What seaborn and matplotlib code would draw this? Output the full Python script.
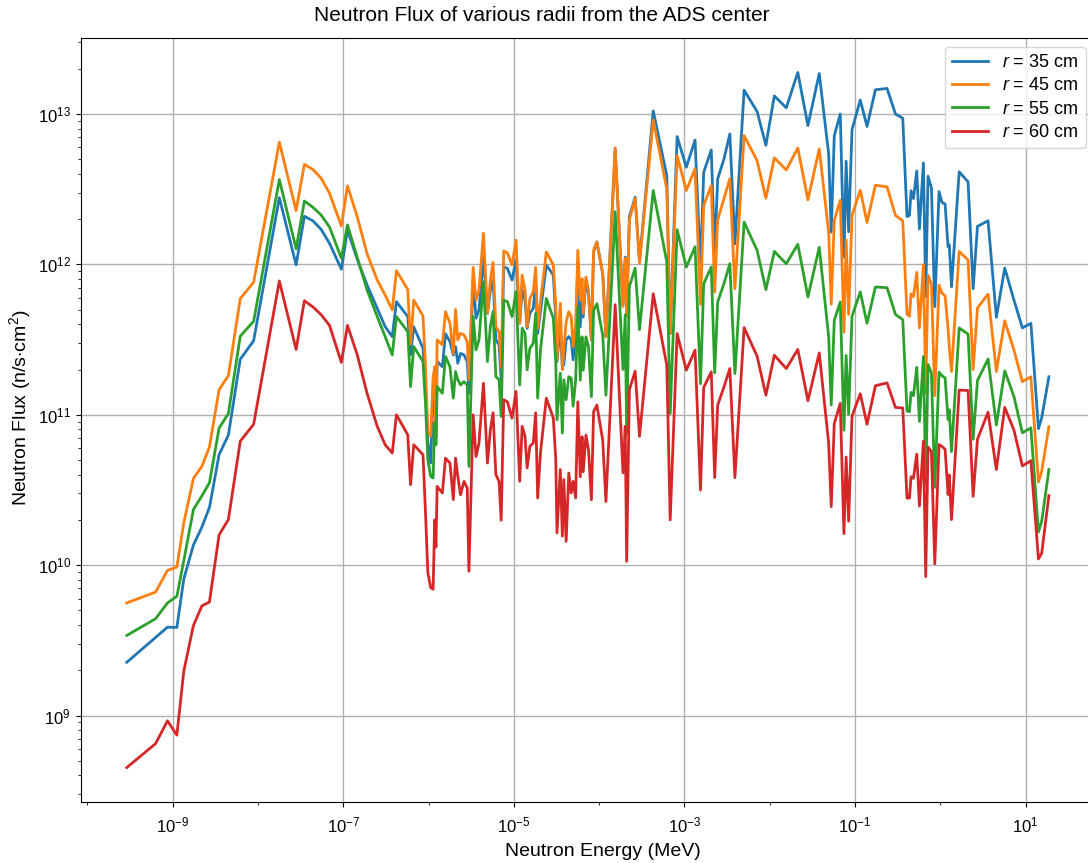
import numpy as np
import pandas as pd
import matplotlib
matplotlib.use("Agg")
import matplotlib.pyplot as plt
import matplotlib.ticker as mticker
import seaborn as sns

# Group energies (MeV)
energy_mev = [
    2.9e-10, 6.3e-10, 8.7e-10, 1.12e-9, 1.35e-9, 1.75e-9, 2.2e-9, 2.7e-9, 3.5e-9, 4.5e-9,
    6.2e-9, 8.9e-9, 1.78e-8, 2.8e-8, 3.5e-8, 4.4e-8, 5.5e-8, 6.9e-8, 9.5e-8, 1.12e-7,
    1.46e-7, 1.9e-7, 2.5e-7, 3.1e-7, 3.75e-7, 4.2e-7, 5.7e-7, 6.15e-7, 6.7e-7, 8.6e-7,
    9.2e-7, 9.8e-7, 1.06e-6, 1.13e-6, 1.18e-6, 1.22e-6, 1.26e-6, 1.45e-6, 1.58e-6, 1.78e-6,
    1.95e-6, 2.07e-6, 2.2e-6, 2.37e-6, 2.6e-6, 2.84e-6, 2.97e-6, 3.33e-6, 3.6e-6, 3.9e-6,
    4.4e-6, 4.9e-6, 5.3e-6, 5.7e-6, 6.15e-6, 6.7e-6, 7.1e-6, 7.6e-6, 8.4e-6, 9.5e-6,
    1.06e-5, 1.17e-5, 1.25e-5, 1.35e-5, 1.43e-5, 1.54e-5, 1.69e-5, 1.8e-5, 1.9e-5, 2.05e-5,
    2.4e-5, 2.9e-5, 3.1e-5, 3.2e-5, 3.5e-5, 3.7e-5, 3.85e-5, 4.1e-5, 4.4e-5, 4.7e-5,
    4.95e-5, 5.3e-5, 5.62e-5, 6.0e-5, 6.3e-5, 6.5e-5, 7.0e-5, 7.5e-5, 8.1e-5, 8.6e-5,
    9.4e-5, 1.10e-4, 1.2e-4, 1.54e-4, 1.9e-4, 2.02e-4, 2.1e-4, 2.26e-4, 2.64e-4, 2.97e-4,
    4.3e-4, 6.2e-4, 6.8e-4, 8.2e-4, 1.05e-3, 1.33e-3, 1.54e-3, 1.68e-3, 2.06e-3, 2.26e-3,
    2.45e-3, 2.9e-3, 3.4e-3, 3.9e-3, 5.0e-3, 7.1e-3, 9.0e-3, 1.13e-2, 1.56e-2, 2.13e-2,
    2.8e-2, 3.8e-2, 4.9e-2, 5.25e-2, 5.7e-2, 6.7e-2, 7.4e-2, 7.85e-2, 8.4e-2, 9.2e-2,
    0.115, 0.138, 0.173, 0.237, 0.297, 0.362, 0.406, 0.434, 0.453, 0.483,
    0.528, 0.568, 0.632, 0.673, 0.716, 0.785, 0.859, 0.964, 1.04, 1.135,
    1.23, 1.27, 1.35, 1.66, 2.11, 2.42, 2.72, 3.62, 4.53, 5.68,
    7.29, 9.14, 11.5, 14.1, 15.4, 18.7,
]

# Neutron flux (n/s.cm^2) at r = 35 cm
flux_r35 = [
    2.26e9, 3.30e9, 3.87e9, 3.85e9, 8.09e9, 1.36e10, 1.79e10, 2.42e10, 5.43e10, 7.33e10,
    2.34e11, 3.11e11, 2.78e12, 9.93e11, 2.09e12, 1.95e12, 1.71e12, 1.38e12, 9.29e11, 1.69e12,
    1.08e12, 7.29e11, 5.11e11, 3.85e11, 3.31e11, 5.65e11, 4.50e11, 2.51e11, 3.85e11, 2.77e11,
    1.51e11, 6.61e10, 4.79e10, 1.48e11, 1.26e11, 7.08e10, 2.26e11, 2.09e11, 3.45e11, 3.07e11,
    2.50e11, 2.84e11, 2.20e11, 2.56e11, 2.50e11, 2.26e11, 1.39e11, 7.87e11, 4.39e11, 4.98e11,
    1.12e12, 4.73e11, 6.76e11, 7.87e11, 3.15e11, 2.92e11, 1.71e11, 9.66e11, 9.40e11, 7.87e11,
    1.07e12, 4.06e11, 6.76e11, 5.79e11, 3.76e11, 4.73e11, 5.11e11, 7.87e11, 3.48e11, 4.85e11,
    9.91e11, 8.49e11, 4.28e11, 2.26e11, 3.85e11, 2.09e11, 2.15e11, 3.15e11, 3.31e11, 3.15e11,
    2.32e11, 3.31e11, 1.04e12, 3.84e11, 6.38e11, 4.47e11, 7.83e11, 6.38e11, 3.13e11, 1.21e12,
    1.41e12, 8.67e11, 3.30e11, 5.82e12, 5.35e11, 1.12e12, 4.57e11, 2.08e12, 2.80e12, 1.05e12,
    1.05e13, 3.90e12, 3.47e11, 7.08e12, 4.43e12, 6.71e12, 9.59e11, 4.10e12, 5.77e12, 1.19e12,
    3.71e12, 5.02e12, 7.36e12, 1.37e12, 1.44e13, 1.04e13, 6.19e12, 1.32e13, 1.10e13, 1.89e13,
    8.38e12, 1.86e13, 5.43e12, 1.64e12, 7.18e12, 1.00e13, 1.12e12, 4.86e12, 1.65e12, 7.87e12,
    1.24e13, 8.26e12, 1.45e13, 1.48e13, 1.00e13, 9.38e12, 2.08e12, 2.12e12, 3.09e12, 2.74e12,
    4.18e12, 1.72e12, 4.73e12, 6.11e11, 3.86e12, 3.23e12, 5.24e11, 3.05e12, 2.59e12, 2.52e12,
    1.31e12, 1.35e12, 7.11e11, 4.13e12, 3.54e12, 6.89e11, 1.79e12, 1.95e12, 4.45e11, 9.46e11,
    5.78e11, 3.78e11, 4.06e11, 8.09e10, 9.55e10, 1.79e11,
]

# Neutron flux (n/s.cm^2) at r = 45 cm
flux_r45 = [
    5.61e9, 6.62e9, 9.23e9, 9.72e9, 1.91e10, 3.77e10, 4.54e10, 6.12e10, 1.47e11, 1.82e11,
    5.92e11, 7.62e11, 6.50e12, 2.28e12, 4.63e12, 4.28e12, 3.74e12, 2.97e12, 1.80e12, 3.33e12,
    2.07e12, 1.18e12, 7.87e11, 6.25e11, 4.98e11, 9.08e11, 6.82e11, 2.95e11, 5.79e11, 4.54e11,
    2.09e11, 7.59e10, 7.24e10, 1.78e11, 2.09e11, 7.08e10, 3.15e11, 2.92e11, 4.85e11, 4.06e11,
    2.56e11, 5.02e11, 3.15e11, 3.48e11, 3.40e11, 3.07e11, 1.71e11, 9.55e11, 5.79e11, 6.76e11,
    1.61e12, 4.73e11, 7.87e11, 1.03e12, 3.85e11, 3.57e11, 2.04e11, 1.23e12, 1.19e12, 9.91e11,
    1.45e12, 4.06e11, 8.49e11, 6.76e11, 3.85e11, 5.94e11, 6.59e11, 9.55e11, 3.76e11, 5.65e11,
    1.21e12, 9.91e11, 5.24e11, 2.32e11, 5.51e11, 1.99e11, 2.70e11, 4.16e11, 4.85e11, 4.50e11,
    2.84e11, 3.95e11, 1.24e12, 5.77e11, 8.04e11, 4.71e11, 8.24e11, 6.71e11, 3.13e11, 1.24e12,
    1.41e12, 8.67e11, 3.30e11, 5.97e12, 5.25e11, 1.10e12, 4.51e11, 1.98e12, 2.75e12, 1.02e12,
    9.12e12, 3.18e12, 3.47e11, 5.28e12, 3.10e12, 4.32e12, 5.43e11, 2.47e12, 3.34e12, 6.55e11,
    1.98e12, 2.73e12, 3.71e12, 6.89e11, 7.18e12, 4.90e12, 2.75e12, 5.11e12, 4.25e12, 5.94e12,
    2.69e12, 5.86e12, 1.64e12, 5.43e11, 1.96e12, 2.67e12, 3.54e11, 1.46e12, 4.65e11, 2.12e12,
    3.11e12, 1.90e12, 3.36e12, 3.28e12, 2.12e12, 1.95e12, 4.65e11, 4.52e11, 6.38e11, 6.11e11,
    8.85e11, 3.78e11, 9.98e11, 1.40e11, 8.47e11, 7.40e11, 1.34e11, 7.28e11, 6.46e11, 6.18e11,
    3.73e11, 2.84e11, 1.94e11, 1.22e12, 1.07e12, 2.00e11, 5.13e11, 6.34e11, 1.94e11, 4.22e11,
    2.69e11, 1.66e11, 1.79e11, 3.57e10, 4.21e10, 8.32e10,
]

# Neutron flux (n/s.cm^2) at r = 55 cm
flux_r55 = [
    3.41e9, 4.40e9, 5.61e9, 6.21e9, 1.07e10, 2.34e10, 2.89e10, 3.53e10, 8.15e10, 1.02e11,
    3.33e11, 4.19e11, 3.67e12, 1.27e12, 2.64e12, 2.40e12, 2.13e12, 1.77e12, 1.10e12, 1.83e12,
    1.11e12, 6.76e11, 4.50e11, 3.31e11, 2.50e11, 4.50e11, 3.57e11, 1.54e11, 2.84e11, 2.26e11,
    1.20e11, 5.01e10, 3.89e10, 3.80e10, 8.91e10, 6.31e10, 1.54e11, 1.39e11, 2.44e11, 2.09e11,
    1.29e11, 1.94e11, 1.71e11, 1.58e11, 1.66e11, 1.58e11, 4.54e10, 4.50e11, 2.70e11, 3.15e11,
    7.67e11, 2.26e11, 3.85e11, 4.85e11, 1.79e11, 1.71e11, 9.75e10, 5.79e11, 5.65e11, 4.50e11,
    6.59e11, 1.58e11, 3.76e11, 3.48e11, 1.99e11, 2.77e11, 2.99e11, 4.73e11, 1.29e11, 2.70e11,
    5.94e11, 4.39e11, 2.20e11, 9.27e10, 1.89e11, 7.55e10, 1.71e11, 1.26e11, 1.79e11, 1.75e11,
    1.14e11, 1.71e11, 5.24e11, 1.70e11, 3.30e11, 1.98e11, 3.30e11, 2.82e11, 1.32e11, 4.95e11,
    5.48e11, 3.38e11, 1.35e11, 2.24e12, 2.00e11, 4.62e11, 7.59e10, 7.13e11, 9.44e11, 3.68e11,
    3.10e12, 1.04e12, 1.02e11, 1.70e12, 9.59e11, 1.31e12, 1.61e11, 7.45e11, 9.59e11, 1.90e11,
    5.62e11, 7.45e11, 1.01e12, 1.88e11, 1.91e12, 1.24e12, 6.79e11, 1.22e12, 1.01e12, 1.36e12,
    6.07e11, 1.30e12, 3.30e11, 1.16e11, 4.25e11, 5.62e11, 7.89e10, 2.48e11, 1.01e11, 4.52e11,
    6.56e11, 4.06e11, 7.08e11, 7.00e11, 4.65e11, 4.29e11, 1.06e11, 1.05e11, 1.41e11, 1.34e11,
    2.07e11, 9.04e10, 2.44e11, 3.38e10, 2.16e11, 1.89e11, 3.29e10, 1.92e11, 1.82e11, 1.76e11,
    9.29e10, 1.08e11, 5.69e10, 3.78e11, 3.44e11, 6.87e10, 1.69e11, 2.35e11, 8.55e10, 1.96e11,
    1.32e11, 7.59e10, 8.18e10, 1.66e10, 1.96e10, 4.32e10,
]

# Neutron flux (n/s.cm^2) at r = 60 cm
flux_r60 = [
    4.51e8, 6.50e8, 9.23e8, 7.41e8, 1.97e9, 3.97e9, 5.36e9, 5.69e9, 1.59e10, 2.01e10,
    6.67e10, 8.65e10, 7.76e11, 2.72e11, 5.73e11, 5.22e11, 4.63e11, 3.93e11, 2.23e11, 3.93e11,
    2.50e11, 1.39e11, 8.38e10, 6.32e10, 5.57e10, 1.00e11, 7.36e10, 3.43e10, 6.32e10, 5.43e10,
    2.24e10, 8.91e9, 7.08e9, 6.92e9, 2.00e10, 1.32e10, 3.34e10, 3.02e10, 5.15e10, 4.78e10,
    2.73e10, 5.15e10, 3.90e10, 2.94e10, 3.61e10, 3.26e10, 9.12e9, 1.00e11, 5.28e10, 6.49e10,
    1.62e11, 4.78e10, 7.94e10, 1.03e11, 4.00e10, 3.61e10, 1.99e10, 1.26e11, 1.22e11, 9.51e10,
    1.43e11, 3.61e10, 8.38e10, 7.18e10, 4.43e10, 6.17e10, 6.49e10, 1.03e11, 2.80e10, 5.57e10,
    1.29e11, 9.51e10, 5.02e10, 1.64e10, 4.32e10, 1.56e10, 3.71e10, 1.44e10, 4.10e10, 3.02e10,
    3.61e10, 2.80e10, 1.22e11, 3.87e10, 7.14e10, 4.18e10, 7.33e10, 5.82e10, 2.72e10, 1.05e11,
    1.16e11, 6.79e10, 2.65e10, 5.40e11, 4.11e10, 8.39e10, 1.06e10, 1.47e11, 1.95e11, 7.19e10,
    6.38e11, 2.14e11, 2.00e10, 3.47e11, 1.98e11, 2.69e11, 3.16e10, 1.52e11, 1.93e11, 3.82e10,
    1.16e11, 1.53e11, 2.03e11, 3.82e10, 3.80e11, 2.45e11, 1.35e11, 2.49e11, 2.03e11, 2.72e11,
    1.24e11, 2.58e11, 6.46e10, 2.45e10, 8.75e10, 1.19e11, 1.62e10, 5.24e10, 1.96e10, 9.79e10,
    1.38e11, 8.65e10, 1.56e11, 1.63e11, 1.12e11, 1.11e11, 2.79e10, 2.79e10, 3.87e10, 3.78e10,
    5.47e10, 2.47e10, 6.68e10, 8.39e9, 6.10e10, 5.68e10, 1.02e10, 6.34e10, 6.17e10, 5.90e10,
    2.95e10, 3.98e10, 2.01e10, 1.46e11, 1.45e11, 2.87e10, 6.87e10, 1.04e11, 4.32e10, 1.12e11,
    7.89e10, 4.57e10, 4.95e10, 1.10e10, 1.20e10, 2.90e10,
]

radii_cm = [35, 45, 55, 60]
series = [flux_r35, flux_r45, flux_r55, flux_r60]

# Decade ticks on the energy axis
energy_major_ticks = [1e-9, 1e-7, 1e-5, 1e-3, 1e-1, 1e1]
energy_minor_ticks = [1e-10, 1e-8, 1e-6, 1e-4, 1e-2, 1e0]

frames = []
for r, flux in zip(radii_cm, series):
    frames.append(pd.DataFrame({
        "energy": energy_mev,
        "flux": flux,
        "radius": f"$r$ = {r} cm",
    }))
df = pd.concat(frames, ignore_index=True)

plt.rcParams["font.family"] = ["Liberation Sans", "DejaVu Sans"]
plt.rcParams["mathtext.fontset"] = "custom"
plt.rcParams["mathtext.rm"] = "Liberation Sans"
plt.rcParams["mathtext.it"] = "Liberation Sans:italic"
plt.rcParams["mathtext.bf"] = "Liberation Sans:bold"

W, H = 1088, 863
fig = plt.figure(figsize=(W / 100, H / 100), dpi=100)
ax_left, ax_right, ax_top, ax_bottom = 80.7, 1095.0, 37.7, 802.3
ax = fig.add_axes([ax_left / W, 1 - ax_bottom / H,
                   (ax_right - ax_left) / W, (ax_bottom - ax_top) / H])
ax.set_xscale("log")
ax.set_yscale("log")

sns.lineplot(
    data=df, x="energy", y="flux", hue="radius",
    palette=sns.color_palette("tab10", 4),
    linewidth=2.0, errorbar=None, estimator=None, sort=False, ax=ax,
)

ax.xaxis.set_major_locator(mticker.FixedLocator(energy_major_ticks))
ax.xaxis.set_minor_locator(mticker.FixedLocator(energy_minor_ticks))
ax.xaxis.set_minor_formatter(mticker.NullFormatter())

ax.grid(True, which="major", color="#b0b0b0", linewidth=1.0)
ax.tick_params(axis="both", which="major", labelsize=12)
ax.tick_params(axis="x", which="major", pad=6)

# Title and axis labels
ax_w = ax_right - ax_left
ax_h = ax_bottom - ax_top
ax.set_title("Neutron Flux of various radii from the ADS center", fontsize=15,
             x=(541.5 - ax_left) / ax_w, pad=12)
ax.set_xlabel("Neutron Energy (MeV)", fontsize=14)
ax.xaxis.set_label_coords((602.5 - ax_left) / ax_w, -(851 - ax_bottom) / ax_h)
ax.xaxis.label.set_verticalalignment("center")
ax.set_ylabel("Neutron Flux (n/s$\\cdot$cm$^2$)", fontsize=14)
ax.yaxis.set_label_coords(-(ax_left - 20) / ax_w, (ax_bottom - 407.5) / ax_h)
ax.yaxis.label.set_verticalalignment("center")

sns.move_legend(ax, "upper right", title=None, fontsize=13, frameon=True,
                labelspacing=0.35)

fig.savefig("out.png", dpi=100)
